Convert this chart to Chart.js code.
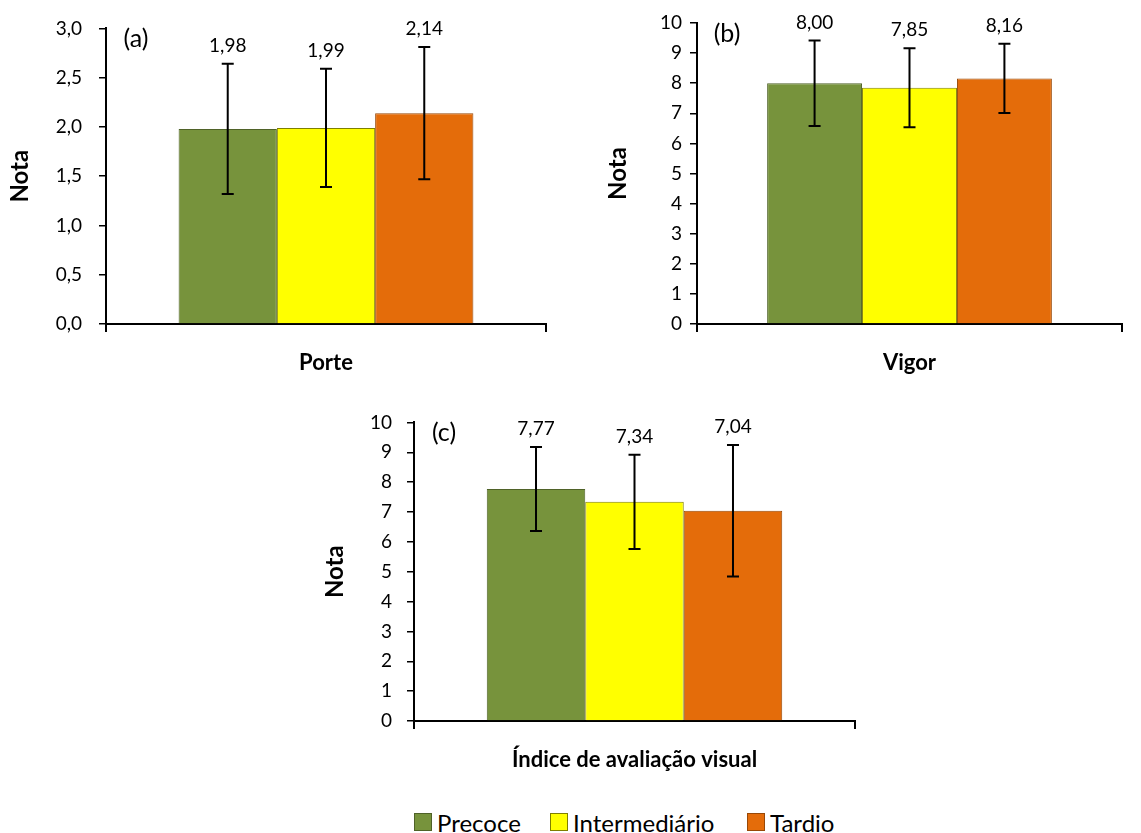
<!DOCTYPE html>
<html>
<head>
<meta charset="utf-8">
<script src="https://cdn.jsdelivr.net/npm/chart.js@4.4.1/dist/chart.umd.min.js"></script>
<style>
html,body{margin:0;padding:0;background:#fff;}
body{width:1141px;height:833px;position:relative;overflow:hidden;font-family:Lato,"Noto Sans",sans-serif;}
canvas{position:absolute;}
.lg{position:absolute;top:809px;height:26px;display:flex;align-items:center;font-size:24px;color:#000;white-space:nowrap;}
.sw{width:18px;height:18px;box-sizing:border-box;border:1px solid #444;margin-right:5px;}
</style>
</head>
<body>
<canvas id="cA" width="570" height="390" style="left:0;top:0"></canvas>
<canvas id="cB" width="551" height="390" style="left:590px;top:0"></canvas>
<canvas id="cC" width="580" height="400" style="left:300px;top:396px"></canvas>
<div class="lg" style="left:414px"><div class="sw" style="background:#77933C;border-color:#4F6228"></div><span>Precoce</span></div>
<div class="lg" style="left:550px"><div class="sw" style="background:#FFFF00;border-color:#7F7F00"></div><span>Intermediário</span></div>
<div class="lg" style="left:747px"><div class="sw" style="background:#E46C0A;border-color:#984807"></div><span>Tardio</span></div>
<script>
// ---- data ----
const seriesNames = ['Precoce', 'Intermediário', 'Tardio'];
const seriesColors = ['#77933C', '#FFFF00', '#E46C0A'];
const seriesBorders = ['#4F6228', '#7F7F00', '#984807'];

const porteCategory = ['Porte'];
const porteMeans = [1.98, 1.99, 2.14];
const porteErrors = [0.66, 0.60, 0.67];

const vigorCategory = ['Vigor'];
const vigorMeans = [8.00, 7.85, 8.16];
const vigorErrors = [1.42, 1.31, 1.15];

const indiceCategory = ['Índice de avaliação visual'];
const indiceMeans = [7.77, 7.34, 7.04];
const indiceErrors = [1.41, 1.58, 2.20];

const yAxisTitle = 'Nota';
const panelLabels = ['(a)', '(b)', '(c)'];

const FONT = 'Lato, "Noto Sans", sans-serif';

function fmt(v, d) { return v.toFixed(d).replace('.', ','); }

function makeChart(id, o) {
  const datasets = seriesNames.map((n, i) => ({
    label: n,
    data: [o.means[i]],
    backgroundColor: seriesColors[i],
    borderColor: seriesBorders[i],
    borderWidth: 1,
    barPercentage: 1,
    categoryPercentage: 0.67
  }));
  const overlay = {
    id: 'overlay',
    afterDatasetsDraw(chart) {
      const ctx = chart.ctx;
      const ys = chart.scales.y;
      ctx.save();
      chart.data.datasets.forEach((ds, i) => {
        const meta = chart.getDatasetMeta(i);
        const bar = meta.data[0];
        const x = bar.x;
        const m = o.means[i], e = o.errs[i];
        const yt = ys.getPixelForValue(m + e);
        const yb = ys.getPixelForValue(m - e);
        ctx.strokeStyle = '#000';
        ctx.lineWidth = 2;
        ctx.beginPath();
        ctx.moveTo(x, yt); ctx.lineTo(x, yb);
        ctx.moveTo(x - 6, yt); ctx.lineTo(x + 6, yt);
        ctx.moveTo(x - 6, yb); ctx.lineTo(x + 6, yb);
        ctx.stroke();
        ctx.fillStyle = '#000';
        ctx.font = '19px ' + FONT;
        ctx.textAlign = 'center';
        ctx.textBaseline = 'middle';
        ctx.fillText(fmt(m, 2), x, yt - 18);
      });
      const ca = chart.chartArea;
      ctx.font = '25px ' + FONT;
      ctx.textAlign = 'center';
      ctx.textBaseline = 'middle';
      ctx.fillText(o.panel, ca.left + 30, ca.top + 11);
      ctx.restore();
    }
  };
  return new Chart(document.getElementById(id), {
    type: 'bar',
    data: { labels: o.cat, datasets },
    plugins: [overlay],
    options: {
      responsive: false,
      animation: false,
      layout: { padding: o.padding },
      plugins: { legend: { display: false }, tooltip: { enabled: false } },
      scales: {
        x: {
          offset: true,
          grid: { display: true, offset: true, drawOnChartArea: false, drawTicks: true, tickLength: 8, color: '#000', lineWidth: 2 },
          border: { display: true, color: '#000', width: 2 },
          ticks: { color: '#000', padding: 18, font: { family: FONT, size: 22, weight: 'bold' } },
          afterFit(s) { s.height = o.xHeight; }
        },
        y: {
          min: 0, max: o.yMax,
          ticks: { stepSize: o.step, color: '#000', padding: o.tickPad, font: { family: FONT, size: 19 },
                   callback: v => fmt(v, o.dec) },
          grid: { display: true, drawOnChartArea: false, drawTicks: true, tickLength: 7, color: '#000', lineWidth: 1.5 },
          border: { display: true, color: '#000', width: 2 },
          title: { display: true, text: yAxisTitle, color: '#000', padding: { top: o.titlePad, bottom: 0 },
                   font: { family: FONT, size: 24, weight: 'bold' } },
          afterFit(s) { s.width = o.yWidth; }
        }
      }
    }
  });
}

makeChart('cA', { means: porteMeans, errs: porteErrors, cat: porteCategory, yMax: 3, step: 0.5, dec: 1,
  yWidth: 106, tickPad: 17, titlePad: 6, xHeight: 66, padding: { left: 0, top: 23, right: 24, bottom: 0 }, panel: panelLabels[0] });
makeChart('cB', { means: vigorMeans, errs: vigorErrors, cat: vigorCategory, yMax: 10, step: 1, dec: 0,
  yWidth: 107, tickPad: 8, titlePad: 14, xHeight: 66, padding: { left: 0, top: 23, right: 19, bottom: 0 }, panel: panelLabels[1] });
makeChart('cC', { means: indiceMeans, errs: indiceErrors, cat: indiceCategory, yMax: 10, step: 1, dec: 0,
  yWidth: 114, tickPad: 15, titlePad: 21, xHeight: 75, padding: { left: 0, top: 23, right: 25, bottom: 0 }, panel: panelLabels[2] });
</script>
</body>
</html>
